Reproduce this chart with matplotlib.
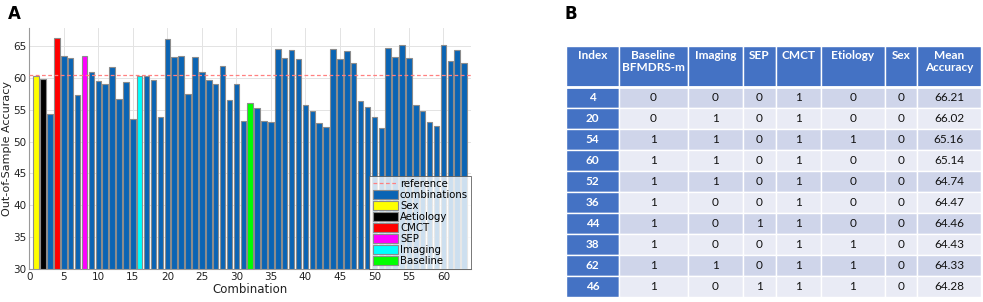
import numpy as np
import matplotlib
matplotlib.use("Agg")
import matplotlib.pyplot as plt
from matplotlib.patches import Rectangle

# accuracy of every feature combination (index 1..63)
combo_idx = np.arange(1, 64)
accuracy = [
    60.35, 59.8, 54.3, 66.21, 63.5, 63.1, 57.3, 63.4, 60.9, 59.5,
    59.1, 61.7, 56.7, 59.3, 53.5, 60.35, 60.35, 59.7, 53.8, 66.02,
    63.2, 63.5, 57.5, 63.3, 60.9, 59.7, 59.0, 61.9, 56.5, 59.1,
    53.3, 56.05, 55.3, 53.3, 53.0, 64.47, 63.1, 64.43, 63.0, 55.7,
    54.85, 52.9, 52.3, 64.46, 62.9, 64.28, 62.3, 56.4, 55.5, 53.8,
    52.1, 64.74, 63.25, 65.16, 63.1, 55.7, 54.75, 53.1, 52.5, 65.14,
    62.7, 64.33, 62.3,
]
reference_acc = 60.4

single_names = ["Sex", "Aetiology", "CMCT", "SEP", "Imaging", "Baseline"]
single_idx = [1, 2, 4, 8, 16, 32]
single_colors = ["#ffff00", "#000000", "#ff0000", "#ff00ff", "#00ffff", "#00ff00"]
combo_color = "#0a64b4"

# table of the ten best combinations
table_cols = ["Index", "Baseline\nBFMDRS-m", "Imaging", "SEP", "CMCT",
              "Etiology", "Sex", "Mean\nAccuracy"]
top_index = [4, 20, 54, 60, 52, 36, 44, 38, 62, 46]
top_baseline = [0, 0, 1, 1, 1, 1, 1, 1, 1, 1]
top_imaging = [0, 1, 1, 1, 1, 0, 0, 0, 1, 0]
top_sep = [0, 0, 0, 0, 0, 0, 1, 0, 0, 1]
top_cmct = [1, 1, 1, 1, 1, 1, 1, 1, 1, 1]
top_etiology = [0, 0, 1, 0, 0, 0, 0, 1, 1, 1]
top_sex = [0, 0, 0, 0, 0, 0, 0, 0, 0, 0]
top_mean = ["66.21", "66.02", "65.16", "65.14", "64.74",
            "64.47", "64.46", "64.43", "64.33", "64.28"]

fig = plt.figure(figsize=(9.83, 3.02), dpi=100)

# ---- panel A: bar chart
ax = fig.add_axes([0.0298, 0.109, 0.4494, 0.798])
is_single = np.isin(combo_idx, single_idx)
vals = np.array(accuracy)
ax.bar(combo_idx[~is_single], vals[~is_single], width=0.8, color=combo_color,
       edgecolor="#8c8c8c", linewidth=0.8, label="combinations", zorder=2)
for name, idx, col in zip(single_names, single_idx, single_colors):
    ax.bar(idx, vals[idx - 1], width=0.8, color=col, edgecolor="#8c8c8c",
           linewidth=0.8, label=name, zorder=2)
ax.axhline(reference_acc, color="#ff8080", linestyle=(0, (3, 2)),
           linewidth=0.9, label="reference", zorder=3)

ax.set_xlim(0, 64)
ax.set_ylim(30, 67.8)
ax.set_xticks(np.arange(0, 61, 5))
ax.set_yticks(np.arange(30, 66, 5))
ax.grid(True, color="#e3e3e3", linewidth=0.7, zorder=0)
ax.set_axisbelow(True)
for s in ["top", "right"]:
    ax.spines[s].set_visible(False)
for s in ["left", "bottom"]:
    ax.spines[s].set_color("#9a9a9a")
    ax.spines[s].set_linewidth(0.8)
ax.tick_params(labelsize=7.5, length=0, pad=2, colors="#222222")
ax.set_xlabel("Combination", fontsize=8.5, labelpad=1, color="#222222")
ax.set_ylabel("Out-of-Sample Accuracy", fontsize=8, labelpad=1, color="#222222")

handles, labels = ax.get_legend_handles_labels()
order = ["reference", "combinations"] + single_names
hmap = dict(zip(labels, handles))
leg = ax.legend([hmap[k] for k in order], order, loc="lower right",
                fontsize=7.3, frameon=True, fancybox=False, borderaxespad=0,
                handlelength=2.5, handleheight=1.0, labelspacing=0.1,
                handletextpad=0.2, borderpad=0.3)
leg.get_frame().set_edgecolor("#555555")
leg.get_frame().set_linewidth(0.7)

fig.text(0.008, 0.955, "A", fontsize=12, fontweight="bold", va="center")
fig.text(0.574, 0.955, "B", fontsize=12, fontweight="bold", va="center")

# ---- panel B: table
col_w = [53, 69, 55, 33, 45, 64, 32, 64]
head_h = 41
row_h = 21
n_rows = len(top_index)
tx = fig.add_axes([566 / 983, (302 - 297) / 302, sum(col_w) / 983,
                   (head_h + n_rows * row_h) / 302])
tx.set_xlim(0, sum(col_w))
tx.set_ylim(head_h + n_rows * row_h, 0)
tx.axis("off")

fnt = ["Lato", "DejaVu Sans"]
head_blue = "#4472c4"
row_cols = ["#cfd5ea", "#e9ebf5"]
x_edges = np.concatenate([[0], np.cumsum(col_w)])

for j, name in enumerate(table_cols):
    tx.add_patch(Rectangle((x_edges[j], 0), col_w[j], head_h, facecolor=head_blue,
                           edgecolor="white", linewidth=1.0))
    tx.text(x_edges[j] + col_w[j] / 2, 4, name, ha="center", va="top",
            fontsize=8.5, fontweight="bold", color="white", family=fnt,
            linespacing=1.15)

columns = [top_index, top_baseline, top_imaging, top_sep, top_cmct,
           top_etiology, top_sex, top_mean]
for i in range(n_rows):
    y0 = head_h + i * row_h
    for j, col in enumerate(columns):
        fc = head_blue if j == 0 else row_cols[i % 2]
        tx.add_patch(Rectangle((x_edges[j], y0), col_w[j], row_h, facecolor=fc,
                               edgecolor="white", linewidth=1.0))
        tx.text(x_edges[j] + col_w[j] / 2, y0 + row_h / 2, str(col[i]),
                ha="center", va="center", fontsize=8.5, family=fnt,
                fontweight="bold" if j == 0 else "normal",
                color="white" if j == 0 else "#111111")
tx.plot([0, sum(col_w)], [head_h, head_h], color="white", linewidth=2.0)

fig.savefig("out.png", dpi=100)
